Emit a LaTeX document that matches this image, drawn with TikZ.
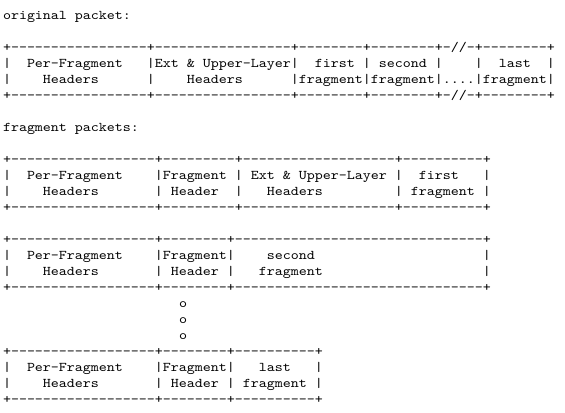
\documentclass[tikz,border=0pt]{standalone}
\usepackage{fontspec}
\setmonofont{Latin Modern Mono}[FakeStretch=1.142857]
\begin{document}
\begin{tikzpicture}[x=0.75pt,y=-0.75pt,
  asc/.style={anchor=base west,inner sep=0pt,outer sep=0pt,
    font=\ttfamily\fontsize{10pt}{12pt}\selectfont}]
\useasboundingbox (0,0) rectangle (565,412);
% original packet
\node[asc] (t0)  at (3,19)  {original~packet:};
\node[asc] (r2)  at (3,51)  {+-----------------+-----------------+--------+--------+-//-+--------+};
\node[asc] (r3)  at (3,67)  {|~~Per-Fragment~~~|Ext~\&~Upper-Layer|~~first~|~second~|~~~~|~~last~~|};
\node[asc] (r4)  at (3,83)  {|~~~~Headers~~~~~~|~~~~Headers~~~~~~|fragment|fragment|....|fragment|};
\node[asc] (r5)  at (3,99)  {+-----------------+-----------------+--------+--------+-//-+--------+};
% fragment packets
\node[asc] (t7)  at (3,131) {fragment~packets:};
\node[asc] (r9)  at (3,163) {+------------------+---------+-------------------+----------+};
\node[asc] (r10) at (3,179) {|~~Per-Fragment~~~~|Fragment~|~Ext~\&~Upper-Layer~|~~first~~~|};
\node[asc] (r11) at (3,195) {|~~~~Headers~~~~~~~|~Header~~|~~~Headers~~~~~~~~~|~fragment~|};
\node[asc] (r12) at (3,211) {+------------------+---------+-------------------+----------+};
\node[asc] (r14) at (3,243) {+------------------+--------+-------------------------------+};
\node[asc] (r15) at (3,259) {|~~Per-Fragment~~~~|Fragment|~~~~second~~~~~~~~~~~~~~~~~~~~~|};
\node[asc] (r16) at (3,275) {|~~~~Headers~~~~~~~|~Header~|~~~fragment~~~~~~~~~~~~~~~~~~~~|};
\node[asc] (r17) at (3,291) {+------------------+--------+-------------------------------+};
\node[asc] (o1)  at (179,307) {o};
\node[asc] (o2)  at (179,323) {o};
\node[asc] (o3)  at (179,339) {o};
\node[asc] (r21) at (3,355) {+------------------+--------+----------+};
\node[asc] (r22) at (3,371) {|~~Per-Fragment~~~~|Fragment|~~~last~~~|};
\node[asc] (r23) at (3,387) {|~~~~Headers~~~~~~~|~Header~|~fragment~|};
\node[asc] (r24) at (3,403) {+------------------+--------+----------+};
\end{tikzpicture}
\end{document}
